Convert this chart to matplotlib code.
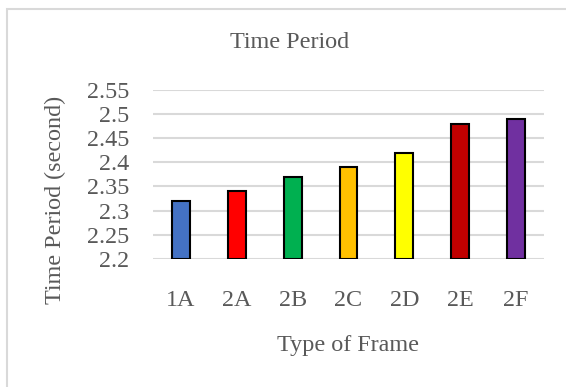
import matplotlib.pyplot as plt
from matplotlib.patches import Rectangle

frames = ['1A', '2A', '2B', '2C', '2D', '2E', '2F']
periods = [2.32, 2.34, 2.37, 2.39, 2.42, 2.48, 2.49]
colors = ['#4472C4', '#FF0000', '#00B050', '#FFC000', '#FFFF00', '#C00000', '#7030A0']
yticks = [2.2, 2.25, 2.3, 2.35, 2.4, 2.45, 2.5, 2.55]
ytick_labels = ['2.2', '2.25', '2.3', '2.35', '2.4', '2.45', '2.5', '2.55']

text_color = '#595959'
grid_color = '#d9d9d9'
fs = 17.4
plt.rcParams['font.family'] = ['Liberation Serif', 'DejaVu Serif']

W, H = 566, 387
fig = plt.figure(figsize=(W / 100, H / 100), dpi=100)
fig.patch.set_facecolor('white')

# chart frame
fig.patches.append(Rectangle((6.5 / W, -0.02), 1.0, 1.02 - 9 / H, transform=fig.transFigure,
                             facecolor='none', edgecolor=grid_color, linewidth=1.5))

ax = fig.add_axes([153 / W, 1 - 259 / H, (544 - 153) / W, (259 - 89.7) / H])
x = range(len(frames))
ax.bar(x, [p - 2.2 for p in periods], bottom=2.2, width=0.32, color=colors,
       edgecolor='black', linewidth=1.5, zorder=3)

ax.set_xlim(-0.5, len(frames) - 0.5)
ax.set_ylim(2.2, 2.55)
ax.set_yticks(yticks)
ax.set_yticklabels(ytick_labels)
ax.set_xticks(list(x))
ax.set_xticklabels(frames)
ax.yaxis.grid(True, color=grid_color, linewidth=1.5, zorder=0)
ax.set_axisbelow(True)
for s in ax.spines.values():
    s.set_visible(False)
ax.tick_params(axis='both', length=0, labelsize=fs, labelcolor=text_color)
ax.tick_params(axis='x', pad=22)
ax.tick_params(axis='y', pad=17)

fig.text(290 / W, 1 - 43 / H, 'Time Period', ha='center', va='center',
         fontsize=fs, color=text_color)
fig.text(348 / W, 1 - 346 / H, 'Type of Frame', ha='center', va='center',
         fontsize=fs, color=text_color)
fig.text(55 / W, 1 - 200 / H, 'Time Period (second)', ha='center', va='center',
         rotation=90, fontsize=fs, color=text_color)

fig.savefig('out.png', dpi=100)
